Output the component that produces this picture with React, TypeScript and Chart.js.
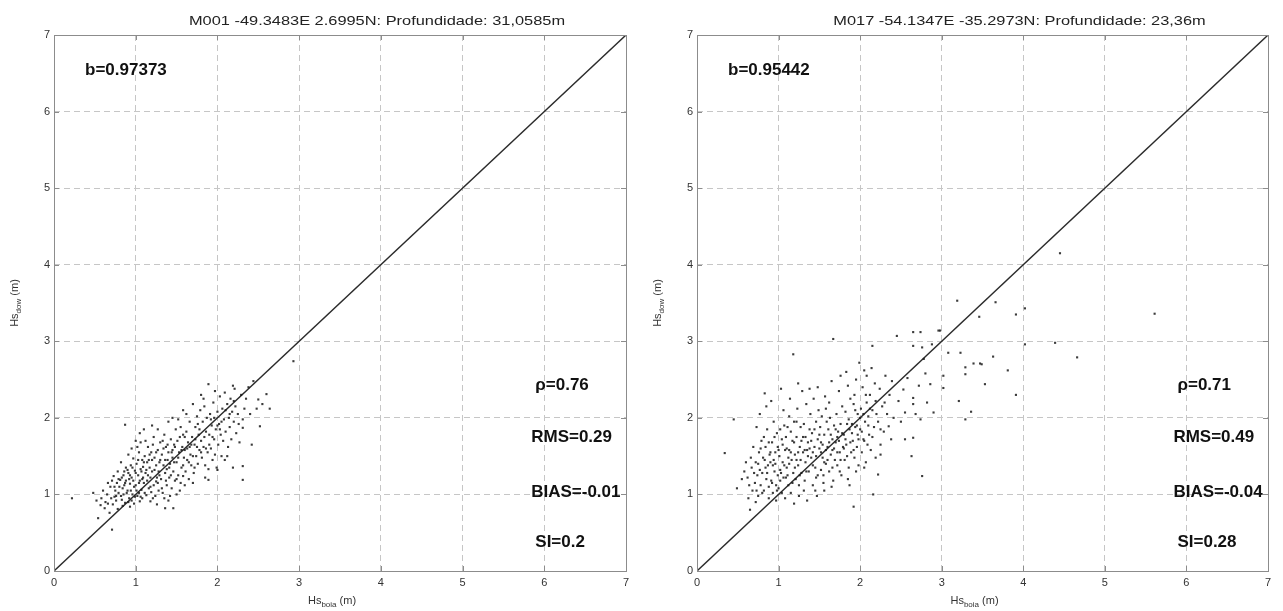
import React, { useEffect, useRef } from 'react';
import { Chart, registerables } from 'chart.js';

Chart.register(...registerables);

const FAMILY = '"Liberation Sans", Arial, Helvetica, sans-serif';

const axisTicks = [0, 1, 2, 3, 4, 5, 6, 7];
const diagonal = [{ x: 0, y: 0 }, { x: 7, y: 7 }];

const leftTitle = 'M001 -49.3483E 2.6995N: Profundidade: 31,0585m';
const rightTitle = 'M017 -54.1347E -35.2973N: Profundidade: 23,36m';
const leftSlope = 'b=0.97373';
const rightSlope = 'b=0.95442';
const leftStats = ['ρ=0.76', 'RMS=0.29', 'BIAS=-0.01', 'SI=0.2'];
const rightStats = ['ρ=0.71', 'RMS=0.49', 'BIAS=-0.04', 'SI=0.28'];
const statX = [5.89, 5.84, 5.84, 5.89];
const statY = [2.43, 1.75, 1.03, 0.37];
const slopeX = 0.38;
const slopeY = 6.54;
const xTitle = ['Hs', 'boia', ' (m)'];
const yTitle = ['Hs', 'dow', ' (m)'];

const leftPoints: number[][] = [
  [0.22, 0.95], [0.48, 1.02], [0.54, 0.69], [0.58, 0.95], [0.6, 1.05], [0.62, 0.82], [0.65, 1.0], [0.66, 0.88], [0.69, 1.1], [0.68, 0.76], [0.71, 0.54],
  [0.72, 0.87], [0.73, 1.24], [0.74, 0.97], [0.75, 1.05], [0.76, 0.92], [0.77, 1.15], [0.78, 0.81], [0.79, 1.02], [0.71, 1.18], [0.78, 1.3],
  [0.81, 1.19], [0.82, 0.98], [0.83, 0.93], [0.84, 1.08], [0.85, 1.25], [0.86, 1.12], [0.87, 0.89], [0.87, 1.91], [0.88, 1.35], [0.89, 1.02], [0.82, 1.42], [0.86, 1.3], [0.88, 1.18], [0.84, 0.85],
  [0.9, 1.05], [0.91, 1.28], [0.92, 0.95], [0.93, 0.84], [0.93, 1.14], [0.94, 1.38], [0.95, 1.22], [0.96, 1.0], [0.97, 1.47], [0.98, 1.1], [0.99, 1.31], [0.91, 1.52], [0.95, 0.92], [0.97, 1.18], [0.99, 0.97], [0.92, 1.2],
  [1.0, 1.12], [1.01, 1.4], [1.02, 0.98], [1.03, 1.25], [1.04, 1.55], [1.05, 0.91], [1.05, 1.18], [1.06, 1.33], [1.07, 1.06], [1.08, 1.45], [1.09, 1.22], [1.02, 1.62], [1.04, 1.02], [1.06, 1.68], [1.08, 0.95], [1.09, 1.36],
  [1.1, 1.15], [1.11, 1.5], [1.12, 1.28], [1.13, 0.99], [1.14, 1.42], [1.15, 1.62], [1.16, 1.08], [1.17, 1.35], [1.18, 0.91], [1.18, 1.22], [1.19, 1.55], [1.12, 1.7], [1.14, 1.18], [1.16, 1.45], [1.19, 1.03],
  [1.2, 1.3], [1.21, 1.65], [1.22, 1.12], [1.23, 1.48], [1.24, 0.98], [1.25, 1.38], [1.26, 0.87], [1.26, 1.22], [1.27, 1.58], [1.28, 1.05], [1.29, 1.42], [1.22, 1.75], [1.25, 1.17], [1.28, 1.3], [1.3, 1.68],
  [1.31, 1.2], [1.32, 1.52], [1.33, 1.02], [1.34, 1.38], [1.35, 1.78], [1.36, 0.82], [1.36, 1.28], [1.37, 1.62], [1.38, 1.12], [1.39, 1.45], [1.33, 1.7], [1.35, 0.95], [1.38, 1.33],
  [1.4, 1.55], [1.41, 1.22], [1.42, 1.4], [1.43, 1.72], [1.44, 1.08], [1.45, 1.48], [1.46, 0.82], [1.46, 1.3], [1.47, 1.65], [1.48, 1.18], [1.49, 1.85], [1.42, 0.98], [1.45, 1.58],
  [1.5, 1.42], [1.51, 1.7], [1.52, 1.25], [1.53, 1.55], [1.54, 1.05], [1.55, 1.88], [1.56, 1.35], [1.57, 1.62], [1.58, 1.24], [1.59, 1.48], [1.52, 1.98], [1.55, 1.15], [1.58, 1.78],
  [1.6, 1.58], [1.61, 1.3], [1.62, 1.82], [1.63, 1.45], [1.64, 1.68], [1.65, 1.2], [1.66, 1.95], [1.67, 1.52], [1.68, 1.38], [1.69, 1.75], [1.62, 2.05], [1.66, 1.62],
  [1.71, 1.28], [1.72, 1.65], [1.73, 1.88], [1.74, 1.5], [1.75, 2.02], [1.76, 1.4], [1.77, 1.78], [1.78, 1.58], [1.79, 2.1], [1.72, 1.35], [1.76, 1.92],
  [1.8, 1.7], [1.81, 1.48], [1.82, 1.95], [1.83, 1.62], [1.84, 2.15], [1.85, 1.38], [1.86, 1.82], [1.87, 2.0], [1.88, 1.55], [1.89, 1.19], [1.89, 1.33], [1.89, 2.44], [1.83, 2.25],
  [1.9, 1.78], [1.91, 2.05], [1.92, 1.6], [1.93, 1.9], [1.94, 1.45], [1.95, 2.2], [1.96, 1.72], [1.97, 2.35], [1.98, 1.85], [1.99, 1.35], [1.92, 1.98], [1.97, 1.52],
  [2.0, 2.08], [2.01, 1.65], [2.02, 1.92], [2.03, 2.28], [2.04, 1.78], [2.05, 1.5], [2.06, 2.12], [2.07, 1.7], [2.08, 1.98], [2.09, 1.45], [2.09, 2.33], [2.03, 1.85],
  [2.1, 1.82], [2.12, 2.18], [2.13, 1.62], [2.14, 2.0], [2.15, 1.88], [2.16, 2.25], [2.17, 1.72], [2.19, 1.35], [2.19, 2.42], [2.18, 2.08],
  [2.2, 1.95], [2.22, 2.15], [2.23, 1.8], [2.25, 2.05], [2.27, 1.68], [2.29, 2.3], [2.21, 2.38], [2.26, 1.92],
  [2.31, 1.98], [2.31, 1.87], [2.31, 1.37], [2.31, 1.19], [2.33, 2.12], [2.35, 2.25], [2.38, 2.4], [2.42, 1.65], [2.44, 2.48], [2.4, 2.05],
  [2.48, 2.12], [2.5, 2.24], [2.52, 1.89], [2.55, 2.18], [2.6, 2.31], [2.64, 2.12], [2.93, 2.74],
  [0.8, 1.1], [0.83, 1.22], [0.85, 1.0], [0.87, 1.15], [0.9, 1.32], [0.91, 0.9], [0.93, 1.25], [0.94, 1.05], [0.96, 1.35], [0.98, 0.88],
  [1.0, 1.28], [1.01, 1.05], [1.03, 1.45], [1.04, 1.15], [1.06, 0.97], [1.07, 1.3], [1.08, 1.2], [1.1, 1.42], [1.11, 1.02], [1.13, 1.32],
  [1.15, 1.25], [1.17, 1.52], [1.18, 1.1], [1.2, 1.45], [1.21, 0.95], [1.23, 1.32], [1.25, 1.55], [1.27, 1.15], [1.29, 1.25], [1.3, 1.45],
  [1.32, 1.08], [1.34, 1.6], [1.36, 1.45], [1.37, 1.18], [1.39, 1.65], [1.41, 1.35], [1.43, 1.25], [1.44, 1.55], [1.47, 1.42], [1.48, 1.62],
  [1.5, 1.2], [1.52, 1.48], [1.54, 1.75], [1.56, 1.58], [1.58, 1.38], [1.6, 1.75], [1.63, 1.6], [1.65, 1.42], [1.68, 1.65], [1.7, 1.5],
  [1.73, 1.72], [1.75, 1.62], [1.78, 1.85], [1.8, 1.55], [1.84, 1.75], [1.86, 1.6], [1.9, 1.65], [1.94, 1.75], [1.96, 2.0], [2.0, 1.9],
  [2.05, 1.95], [2.1, 2.1], [2.15, 2.05], [2.2, 2.22], [0.76, 0.98], [0.79, 1.2], [0.74, 1.1], [0.7, 0.95], [0.66, 1.15], [0.63, 0.9],
  [0.57, 0.86], [0.52, 0.92], [0.95, 1.6], [1.0, 1.7], [1.05, 1.8], [1.1, 1.85], [1.2, 1.9], [1.27, 1.85], [1.4, 1.95], [1.45, 2.0],
  [1.58, 2.1], [1.7, 2.18], [1.8, 2.3], [1.4, 0.92], [1.5, 1.0], [1.6, 1.12], [1.7, 1.15], [1.85, 1.22], [2.0, 1.32], [2.12, 1.5],
];

const rightPoints: number[][] = [
  [0.34, 1.54], [0.45, 1.98], [0.49, 1.08], [0.65, 0.8], [0.58, 1.3], [0.62, 1.22], [0.66, 1.48], [0.68, 1.05], [0.63, 0.95], [0.69, 1.62], [0.67, 1.35],
  [0.71, 1.15], [0.72, 1.42], [0.73, 1.88], [0.74, 1.25], [0.75, 0.98], [0.76, 1.55], [0.77, 1.32], [0.78, 1.12], [0.79, 1.7], [0.72, 0.9], [0.77, 2.05],
  [0.8, 1.28], [0.81, 1.48], [0.82, 1.05], [0.83, 2.32], [0.84, 1.62], [0.85, 1.2], [0.86, 1.85], [0.87, 1.38], [0.88, 0.95], [0.89, 1.52], [0.82, 1.75], [0.85, 2.15], [0.88, 1.1], [0.84, 1.35],
  [0.9, 1.42], [0.91, 1.18], [0.92, 1.68], [0.93, 1.02], [0.94, 1.95], [0.95, 1.3], [0.96, 1.55], [0.97, 0.92], [0.98, 1.8], [0.99, 1.25], [0.91, 2.22], [0.94, 1.45], [0.97, 1.12], [0.99, 1.62], [0.93, 1.38],
  [1.0, 1.08], [1.01, 1.5], [1.02, 1.85], [1.03, 1.28], [1.04, 1.02], [1.05, 1.65], [1.06, 2.1], [1.07, 1.38], [1.08, 0.95], [1.09, 1.75], [1.02, 1.18], [1.05, 1.42], [1.08, 1.58], [1.03, 2.38], [1.09, 1.22],
  [1.1, 1.35], [1.11, 1.88], [1.12, 1.12], [1.13, 1.58], [1.14, 2.25], [1.15, 1.02], [1.16, 1.45], [1.17, 1.7], [1.18, 2.83], [1.18, 1.28], [1.19, 1.95], [1.12, 1.48], [1.15, 1.82], [1.19, 0.88], [1.13, 2.02],
  [1.2, 1.52], [1.21, 1.2], [1.22, 1.75], [1.23, 2.12], [1.24, 1.38], [1.25, 0.98], [1.26, 1.62], [1.27, 1.88], [1.28, 1.28], [1.29, 2.35], [1.22, 1.45], [1.25, 1.12], [1.28, 1.7], [1.24, 2.45],
  [1.3, 1.55], [1.31, 1.92], [1.32, 1.18], [1.33, 1.42], [1.34, 2.18], [1.35, 0.92], [1.36, 1.68], [1.37, 1.3], [1.38, 1.85], [1.39, 2.05], [1.31, 1.05], [1.35, 1.58], [1.38, 2.38], [1.33, 1.75],
  [1.4, 1.48], [1.41, 1.8], [1.42, 1.12], [1.43, 2.25], [1.44, 1.62], [1.45, 1.35], [1.46, 1.95], [1.47, 0.98], [1.48, 1.72], [1.49, 2.1], [1.42, 1.55], [1.46, 1.22], [1.48, 2.4],
  [1.5, 1.6], [1.51, 1.88], [1.52, 1.32], [1.53, 2.02], [1.54, 1.48], [1.55, 1.15], [1.56, 1.78], [1.57, 2.28], [1.58, 1.4], [1.59, 1.95], [1.52, 1.68], [1.56, 1.05], [1.58, 2.12],
  [1.6, 1.62], [1.61, 1.85], [1.62, 1.3], [1.63, 2.0], [1.64, 1.52], [1.65, 2.48], [1.66, 1.72], [1.67, 3.03], [1.67, 1.18], [1.68, 1.9], [1.69, 1.45], [1.62, 2.2], [1.66, 1.58],
  [1.7, 1.68], [1.71, 2.05], [1.72, 1.38], [1.73, 1.82], [1.74, 2.35], [1.75, 1.55], [1.76, 1.92], [1.77, 1.25], [1.78, 2.15], [1.79, 1.62], [1.72, 1.75], [1.76, 2.55],
  [1.8, 1.78], [1.81, 1.45], [1.82, 2.08], [1.83, 1.65], [1.84, 1.92], [1.85, 2.42], [1.86, 1.35], [1.87, 1.85], [1.88, 2.25], [1.89, 1.55], [1.83, 2.6], [1.87, 1.12],
  [1.9, 1.92], [1.91, 1.7], [1.92, 0.84], [1.92, 2.18], [1.93, 1.48], [1.94, 1.88], [1.95, 2.5], [1.96, 1.62], [1.97, 2.05], [1.98, 1.38], [1.99, 2.72], [1.93, 2.3], [1.97, 1.78],
  [2.0, 1.85], [2.01, 2.12], [2.02, 1.55], [2.03, 2.4], [2.04, 1.72], [2.05, 2.62], [2.06, 1.95], [2.07, 1.42], [2.08, 2.2], [2.09, 1.65], [2.04, 2.05], [2.08, 2.55],
  [2.1, 2.02], [2.11, 1.78], [2.12, 2.3], [2.13, 1.58], [2.15, 2.94], [2.15, 2.1], [2.16, 1.0], [2.17, 1.88], [2.18, 2.45], [2.19, 1.48], [2.14, 2.65], [2.19, 2.22],
  [2.22, 1.26], [2.22, 1.95], [2.24, 2.38], [2.25, 1.52], [2.25, 1.65], [2.27, 2.15], [2.29, 1.82], [2.31, 2.55], [2.33, 2.05], [2.35, 1.89], [2.36, 2.3], [2.38, 1.72], [2.41, 2.0], [2.39, 2.48],
  [2.45, 3.07], [2.47, 2.22], [2.5, 1.95], [2.53, 2.37], [2.55, 1.72], [2.55, 2.07], [2.58, 2.52], [2.63, 1.5], [2.65, 3.12], [2.65, 2.94], [2.65, 1.74], [2.65, 2.18], [2.65, 2.26], [2.68, 2.05],
  [2.72, 2.42], [2.74, 3.12], [2.74, 1.98], [2.76, 2.92], [2.76, 1.24], [2.78, 2.77], [2.82, 2.2], [2.86, 2.44], [2.88, 2.96], [2.9, 2.07], [2.96, 3.14], [2.98, 3.14], [2.8, 2.58],
  [3.02, 2.55], [3.02, 2.39], [3.08, 2.85], [3.19, 3.53], [3.21, 2.22], [3.23, 2.85], [3.29, 2.66], [3.29, 2.57], [3.29, 1.98], [3.36, 2.08], [3.39, 2.71], [3.46, 3.32], [3.47, 2.71],
  [3.49, 2.7], [3.53, 2.44], [3.63, 2.8], [3.66, 3.51], [3.81, 2.62], [3.91, 3.35], [3.91, 2.3], [4.02, 3.43], [4.02, 2.96], [4.39, 2.98], [4.45, 4.15], [4.66, 2.79], [5.61, 3.36],
  [0.75, 1.4], [0.78, 1.6], [0.8, 1.02], [0.83, 1.45], [0.86, 1.28], [0.88, 1.68], [0.9, 1.55], [0.92, 1.15], [0.95, 1.75], [0.96, 1.4],
  [0.98, 1.05], [1.0, 1.58], [1.02, 1.32], [1.04, 1.72], [1.06, 1.22], [1.07, 1.9], [1.1, 1.6], [1.11, 1.25], [1.13, 1.4], [1.15, 1.55],
  [1.17, 1.15], [1.19, 1.68], [1.2, 1.35], [1.22, 1.95], [1.24, 1.55], [1.26, 1.25], [1.27, 1.45], [1.3, 1.75], [1.32, 1.58], [1.34, 1.3],
  [1.36, 1.5], [1.38, 1.6], [1.4, 1.7], [1.42, 1.38], [1.44, 1.85], [1.46, 1.5], [1.48, 1.25], [1.5, 1.78], [1.52, 1.55], [1.54, 1.65],
  [1.56, 1.42], [1.58, 1.58], [1.6, 1.45], [1.62, 1.68], [1.64, 1.78], [1.66, 1.35], [1.68, 1.6], [1.7, 1.85], [1.72, 1.55], [1.74, 1.7],
  [1.76, 1.45], [1.78, 1.8], [1.8, 1.6], [1.82, 1.72], [1.84, 1.5], [1.86, 1.98], [1.88, 1.68], [1.9, 1.8], [1.92, 1.58], [1.94, 2.1],
  [1.96, 1.9], [1.98, 1.72], [2.0, 2.0], [2.02, 1.82], [2.05, 1.7], [2.07, 2.3], [2.1, 1.9], [2.12, 2.12], [2.15, 1.75], [2.2, 2.05],
  [2.25, 1.85], [2.3, 2.2], [0.7, 1.28], [0.64, 1.12], [0.6, 1.42], [0.55, 1.2], [0.73, 1.05], [1.45, 1.05], [1.55, 1.25], [1.65, 1.1],
  [1.75, 1.3], [1.85, 1.2], [1.95, 1.3], [2.05, 1.35],
];

function drawSubLabel(ctx: CanvasRenderingContext2D, parts: string[], cx: number, cy: number, rotate: boolean) {
  ctx.save();
  ctx.translate(cx, cy);
  if (rotate) ctx.rotate(-Math.PI / 2);
  const mainFont = '11px ' + FAMILY;
  const subFont = '8px ' + FAMILY;
  ctx.font = mainFont;
  const w1 = ctx.measureText(parts[0]).width;
  const w3 = ctx.measureText(parts[2]).width;
  ctx.font = subFont;
  const w2 = ctx.measureText(parts[1]).width;
  let x = -(w1 + w2 + w3) / 2;
  ctx.textBaseline = 'middle';
  ctx.textAlign = 'left';
  ctx.fillStyle = '#333';
  ctx.font = mainFont;
  ctx.fillText(parts[0], x, 0);
  x += w1;
  ctx.font = subFont;
  ctx.fillText(parts[1], x, 4);
  x += w2;
  ctx.font = mainFont;
  ctx.fillText(parts[2], x, 0);
  ctx.restore();
}

type PanelProps = {
  title: string;
  slope: string;
  stats: string[];
  points: number[][];
  left: number;
  width: number;
  yAxisWidth: number;
};

function makeOverlay(p: PanelProps) {
  return {
    id: 'overlay',
    afterDraw(chart: any) {
      const { ctx, chartArea: a, scales } = chart;
      const xs = scales.x;
      const ys = scales.y;
      ctx.save();
      // frame
      ctx.strokeStyle = '#8c8c8c';
      ctx.lineWidth = 1;
      ctx.strokeRect(Math.round(a.left) + 0.5, Math.round(a.top) + 0.5, Math.round(a.right - a.left), Math.round(a.bottom - a.top));
      // inward ticks
      ctx.beginPath();
      for (const v of axisTicks) {
        const px = Math.round(xs.getPixelForValue(v)) + 0.5;
        ctx.moveTo(px, a.bottom);
        ctx.lineTo(px, a.bottom - 5);
        ctx.moveTo(px, a.top);
        ctx.lineTo(px, a.top + 5);
        const py = Math.round(ys.getPixelForValue(v)) + 0.5;
        ctx.moveTo(a.left, py);
        ctx.lineTo(a.left + 5, py);
        ctx.moveTo(a.right, py);
        ctx.lineTo(a.right - 5, py);
      }
      ctx.stroke();
      // title
      ctx.save();
      ctx.translate((a.left + a.right) / 2 + 37, 21);
      ctx.scale(1.26, 1);
      ctx.font = '13px ' + FAMILY;
      ctx.fillStyle = '#222';
      ctx.textAlign = 'center';
      ctx.textBaseline = 'middle';
      ctx.fillText(p.title, 0, 0);
      ctx.restore();
      // slope text
      ctx.font = 'bold 17px ' + FAMILY;
      ctx.fillStyle = '#111';
      ctx.textAlign = 'left';
      ctx.textBaseline = 'middle';
      ctx.fillText(p.slope, xs.getPixelForValue(slopeX), ys.getPixelForValue(slopeY));
      // stats
      p.stats.forEach((s, i) => {
        ctx.fillText(s, xs.getPixelForValue(statX[i]), ys.getPixelForValue(statY[i]));
      });
      // axis titles
      drawSubLabel(ctx, xTitle, (a.left + a.right) / 2 - 8, 601, false);
      drawSubLabel(ctx, yTitle, a.left - 39, (a.top + a.bottom) / 2, true);
      ctx.restore();
    },
  };
}

function Panel(p: PanelProps) {
  const ref = useRef<HTMLCanvasElement>(null);
  useEffect(() => {
    const canvas = ref.current!;
    const gridColor = (c: any) => (c.tick && (c.tick.value === 0 || c.tick.value === 7) ? 'rgba(0,0,0,0)' : '#c6c6c6');
    const chart = new Chart(canvas, {
      type: 'scatter',
      data: {
        datasets: [
          {
            type: 'scatter',
            data: p.points.map(([x, y]) => ({ x, y })),
            pointStyle: 'rect',
            pointRadius: 1.5,
            backgroundColor: 'rgba(25,25,25,0.85)',
            borderWidth: 0,
          } as any,
          {
            type: 'line',
            data: diagonal,
            borderColor: '#2b2b2b',
            borderWidth: 1.4,
            pointRadius: 0,
            fill: false,
          } as any,
        ],
      },
      options: {
        responsive: false,
        animation: false,
        layout: { padding: { top: 35, right: 15, bottom: 0, left: 0 } },
        plugins: {
          legend: { display: false },
          tooltip: { enabled: false },
          title: { display: false },
        },
        scales: {
          x: {
            type: 'linear',
            min: 0,
            max: 7,
            afterFit: (s: any) => {
              s.height = 40;
            },
            ticks: { stepSize: 1, padding: 5, color: '#333', font: { size: 11, family: FAMILY } },
            grid: { color: gridColor, drawTicks: false, lineWidth: 1 },
            border: { display: false, dash: [6, 4] },
          },
          y: {
            type: 'linear',
            min: 0,
            max: 7,
            afterFit: (s: any) => {
              s.width = p.yAxisWidth;
            },
            ticks: { stepSize: 1, padding: 4, color: '#333', font: { size: 11, family: FAMILY } },
            grid: { color: gridColor, drawTicks: false, lineWidth: 1 },
            border: { display: false, dash: [6, 4] },
          },
        },
      } as any,
      plugins: [makeOverlay(p)],
    });
    return () => chart.destroy();
  }, []);
  return (
    <canvas
      ref={ref}
      width={p.width}
      height={611}
      style={{ position: 'absolute', left: p.left, top: 0, width: p.width, height: 611 }}
    />
  );
}

export default function App() {
  return (
    <div style={{ position: 'absolute', left: 0, top: 0, width: 1283, height: 611, background: '#fff' }}>
      <Panel title={leftTitle} slope={leftSlope} stats={leftStats} points={leftPoints} left={0} width={641} yAxisWidth={54} />
      <Panel title={rightTitle} slope={rightSlope} stats={rightStats} points={rightPoints} left={641} width={642} yAxisWidth={56} />
    </div>
  );
}
